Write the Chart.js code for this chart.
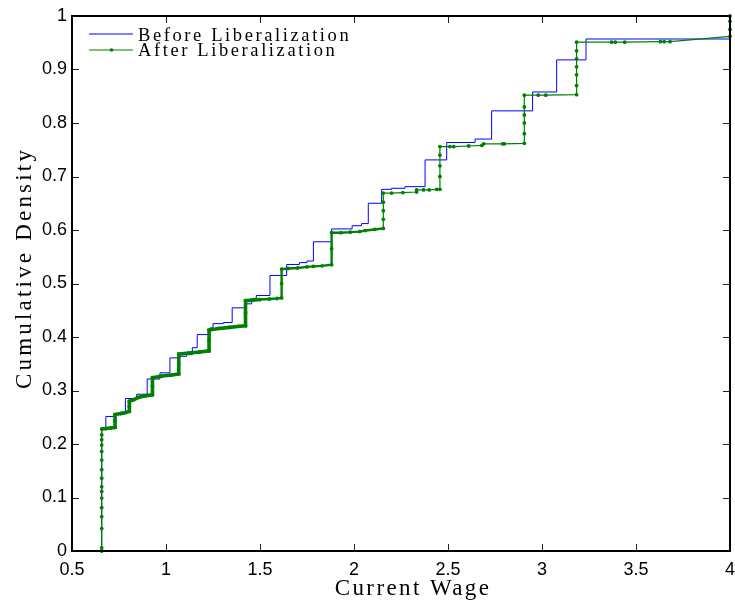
<!DOCTYPE html>
<html>
<head>
<meta charset="utf-8">
<title>Current Wage CDF</title>
<script src="https://cdn.jsdelivr.net/npm/chart.js@4.4.1/dist/chart.umd.min.js"></script>
<style>
  html, body { margin: 0; padding: 0; background: #fff; }
  #wageCdf { display: block; }
</style>
</head>
<body>
<canvas id="wageCdf" width="735" height="605"></canvas>
<script>
// Empirical CDF of current wage, before vs. after liberalization

// Before: jump points of the step function (wage, cumulative density after the jump)
const beforeWage = [0.658, 0.658, 0.68, 0.729, 0.784, 0.844, 0.9, 0.968, 1.021, 1.074, 1.11, 1.14, 1.166,
    1.234, 1.25, 1.305, 1.352, 1.42, 1.456, 1.48, 1.553, 1.642, 1.71, 1.75, 1.784, 1.881, 1.99, 2.04,
    2.076, 2.147, 2.2, 2.271, 2.378, 2.493, 2.644, 2.732, 2.95, 3.078, 3.234, 4];
const beforeDensity = [0, 0.228, 0.2515, 0.256, 0.285, 0.293, 0.3215, 0.333, 0.361, 0.364, 0.367, 0.38, 0.4045,
    0.417, 0.425, 0.427, 0.4545, 0.462, 0.472, 0.4775, 0.515, 0.5356, 0.539, 0.542, 0.578, 0.602, 0.608, 0.612,
    0.65, 0.676, 0.678, 0.681, 0.731, 0.7635, 0.77, 0.8227, 0.858, 0.918, 0.957, 0.9585];

// After: every observation as drawn (ties stack up on the vertical risers)
const afterWage = [
    0.658, 0.658, 0.658, 0.658, 0.658, 0.658, 0.658, 0.658, 0.658, 0.658, 0.658, 0.658, 0.658, 0.658, 0.658, 0.658,
    0.68, 0.705, 0.729, 0.729, 0.729,
    0.76, 0.785, 0.805, 0.805, 0.805,
    0.83, 0.853, 0.89, 0.928, 0.928, 0.928,
    0.98, 1.03, 1.068, 1.068, 1.068,
    1.12, 1.18, 1.229, 1.229, 1.229,
    1.28, 1.34, 1.39, 1.423, 1.423, 1.423,
    1.46, 1.5, 1.55, 1.59, 1.615, 1.615, 1.615,
    1.65, 1.7, 1.75, 1.784, 1.83, 1.881, 1.881, 1.881,
    1.93, 1.98, 2.03, 2.06, 2.11, 2.156, 2.156, 2.156, 2.156, 2.156,
    2.2, 2.26, 2.333, 2.333, 2.37, 2.4, 2.44, 2.457, 2.457, 2.457, 2.457, 2.457,
    2.51, 2.53, 2.61, 2.68, 2.69, 2.79, 2.8, 2.906, 2.906, 2.906, 2.906, 2.906, 2.906,
    2.98, 3.02, 3.184, 3.184, 3.184, 3.184, 3.184, 3.184, 3.184,
    3.37, 3.39, 3.44, 3.63, 3.65, 3.681,
    4, 4, 4, 4
];
const afterDensity = [
    0, 0.006, 0.042, 0.064, 0.081, 0.099, 0.111, 0.12, 0.136, 0.152, 0.17, 0.186, 0.198, 0.208, 0.217, 0.228,
    0.229, 0.23, 0.231, 0.243, 0.255,
    0.257, 0.259, 0.261, 0.27, 0.28,
    0.283, 0.287, 0.29, 0.292, 0.308, 0.324,
    0.327, 0.329, 0.331, 0.35, 0.368,
    0.37, 0.372, 0.374, 0.393, 0.413,
    0.416, 0.418, 0.42, 0.421, 0.445, 0.468,
    0.469, 0.47, 0.471, 0.472, 0.473, 0.5, 0.527,
    0.528, 0.529, 0.531, 0.532, 0.533, 0.535, 0.565, 0.595,
    0.595, 0.596, 0.597, 0.599, 0.601, 0.603, 0.62, 0.636, 0.652, 0.669,
    0.669, 0.67, 0.671, 0.675, 0.675, 0.675, 0.676, 0.676, 0.7, 0.72, 0.74, 0.756,
    0.756, 0.756, 0.757, 0.758, 0.761, 0.761, 0.761, 0.762, 0.78, 0.8, 0.815, 0.83, 0.852,
    0.852, 0.852, 0.853, 0.87, 0.89, 0.905, 0.92, 0.935, 0.951,
    0.951, 0.951, 0.951, 0.952, 0.952, 0.952,
    0.962, 0.975, 0.99, 1
];

const xTicks = [0.5, 1, 1.5, 2, 2.5, 3, 3.5, 4];
const yTicks = [0, 0.1, 0.2, 0.3, 0.4, 0.5, 0.6, 0.7, 0.8, 0.9, 1];
const seriesLabels = ['Before Liberalization', 'After Liberalization'];
const xTitle = 'Current Wage';
const yTitle = 'Cumulative Density';

const BLUE = '#0000ff';
const GREEN = '#008000';
const SERIF = '"Liberation Serif", "Times New Roman", serif';
const SANS = '"Liberation Sans", Arial, sans-serif';

const toPoints = (xs, ys) => xs.map((v, i) => ({ x: v, y: ys[i] }));

// the dense part of the after-series reads as a heavy line
function afterWidth(ctx) {
    const lo = Math.min(ctx.p0.parsed.y, ctx.p1.parsed.y);
    const hi = Math.max(ctx.p0.parsed.y, ctx.p1.parsed.y);
    if (lo >= 0.228 && hi <= 0.47) return 3.6;
    if (lo >= 0.228 && hi <= 0.603 && ctx.p0.parsed.x < 2.15) return 2.4;
    return 1.2;
}

// box, inward ticks, legend and spaced serif titles
const frame = {
    id: 'frame',
    afterDraw(chart) {
        const { ctx, chartArea: a, scales: { x, y } } = chart;
        ctx.save();

        ctx.strokeStyle = '#222';
        ctx.lineWidth = 1;
        ctx.beginPath();
        xTicks.forEach(v => {
            const px = Math.round(x.getPixelForValue(v)) + 0.5;
            ctx.moveTo(px, a.bottom); ctx.lineTo(px, a.bottom - 7);
            ctx.moveTo(px, a.top); ctx.lineTo(px, a.top + 7);
        });
        yTicks.forEach(v => {
            const py = Math.round(y.getPixelForValue(v)) + 0.5;
            ctx.moveTo(a.left, py); ctx.lineTo(a.left + 7, py);
            ctx.moveTo(a.right, py); ctx.lineTo(a.right - 7, py);
        });
        ctx.stroke();

        ctx.strokeStyle = '#000';
        ctx.lineWidth = 2;
        ctx.strokeRect(a.left, a.top, a.right - a.left, a.bottom - a.top);

        // legend, top left inside the axes
        const lx = a.left + 17, ly = a.top + 18;
        ctx.lineWidth = 1.2;
        ctx.strokeStyle = BLUE;
        ctx.beginPath(); ctx.moveTo(lx, ly); ctx.lineTo(lx + 44, ly); ctx.stroke();
        ctx.strokeStyle = GREEN;
        ctx.beginPath(); ctx.moveTo(lx, ly + 16); ctx.lineTo(lx + 44, ly + 16); ctx.stroke();
        ctx.fillStyle = GREEN;
        ctx.beginPath(); ctx.arc(lx + 22.5, ly + 16, 1.8, 0, Math.PI * 2); ctx.fill();

        ctx.fillStyle = '#000';
        ctx.font = '18.5px ' + SERIF;
        ctx.letterSpacing = '2.6px';
        ctx.textAlign = 'left';
        ctx.textBaseline = 'alphabetic';
        ctx.fillText(seriesLabels[0], lx + 49, ly + 7);
        ctx.fillText(seriesLabels[1], lx + 49, ly + 22);

        // axis titles
        ctx.font = '23px ' + SERIF;
        ctx.letterSpacing = '2.4px';
        ctx.textAlign = 'center';
        ctx.fillText(xTitle, 413, 595);

        ctx.letterSpacing = '3.2px';
        ctx.translate(31, 268);
        ctx.rotate(-Math.PI / 2);
        ctx.fillText(yTitle, 0, 0);
        ctx.restore();
    }
};

new Chart(document.getElementById('wageCdf'), {
    type: 'line',
    data: {
        datasets: [
            {
                label: seriesLabels[0],
                data: toPoints(beforeWage, beforeDensity),
                borderColor: BLUE,
                borderWidth: 1,
                stepped: 'before',
                pointRadius: 0,
                fill: false,
                order: 2,
                clip: 3
            },
            {
                label: seriesLabels[1],
                data: toPoints(afterWage, afterDensity),
                borderColor: GREEN,
                borderWidth: 1.2,
                pointRadius: 1.9,
                pointHoverRadius: 0,
                pointBorderWidth: 0,
                pointBackgroundColor: GREEN,
                segment: { borderWidth: afterWidth },
                fill: false,
                order: 1,
                clip: 3
            }
        ]
    },
    options: {
        responsive: false,
        animation: false,
        devicePixelRatio: 1,
        events: [],
        layout: { padding: { top: 16, right: 5, left: 0, bottom: 0 } },
        plugins: { legend: { display: false }, tooltip: { enabled: false } },
        scales: {
            x: {
                type: 'linear',
                min: 0.5,
                max: 4,
                afterBuildTicks: s => { s.ticks = xTicks.map(v => ({ value: v })); },
                afterFit: s => { s.height = 54; s.paddingLeft = 0; s.paddingRight = 0; },
                grid: { display: false, drawTicks: false },
                border: { display: false },
                ticks: {
                    color: '#000',
                    padding: 8,
                    maxRotation: 0,
                    autoSkip: false,
                    font: { family: SANS, size: 18 },
                    callback: v => String(v)
                }
            },
            y: {
                type: 'linear',
                min: 0,
                max: 1,
                afterBuildTicks: s => { s.ticks = yTicks.map(v => ({ value: v })); },
                afterFit: s => { s.width = 72; s.paddingTop = 0; s.paddingBottom = 0; },
                grid: { display: false, drawTicks: false },
                border: { display: false },
                ticks: {
                    color: '#000',
                    padding: 5,
                    autoSkip: false,
                    font: { family: SANS, size: 18 },
                    callback: v => String(v)
                }
            }
        }
    },
    plugins: [frame]
});
</script>
</body>
</html>
